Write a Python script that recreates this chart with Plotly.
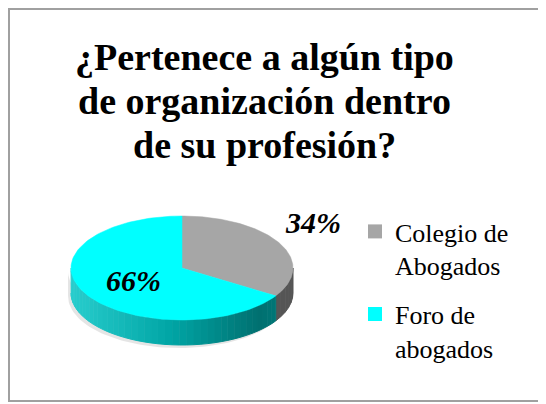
import numpy as np
import plotly.graph_objects as go

# data
categories = ["Colegio de Abogados", "Foro de abogados"]
legend_labels = ["Colegio de<br>Abogados", "Foro de<br>abogados"]
values = [34, 66]
top_colors = ["#A6A6A6", "#00FFFF"]
side_colors = [(85, 85, 85), (0, 150, 150)]
title_lines = ["¿Pertenece a algún tipo", "de organización dentro", "de su profesión?"]

# the page body has an 8px margin, so axes are set so that 1 unit = 1 screen pixel
off = 8
W, H = 546, 404

# pie geometry, in screen pixels
cx, cy = 182, 268
rx, ry = 111, 52
depth = 25
serif = "Liberation Serif"


def pt(theta, dy=0.0):
    return cx + rx * np.cos(theta), cy - ry * np.sin(theta) + dy


def cyan_side(t):
    # light teal on the left, dark teal on the right
    stops = [(0.0, (40, 205, 205)), (0.45, (0, 165, 165)), (0.85, (0, 112, 112)), (1.0, (0, 125, 125))]
    for (t0, c0), (t1, c1) in zip(stops[:-1], stops[1:]):
        if t <= t1:
            f = (t - t0) / (t1 - t0)
            c = [round(a + (b - a) * f) for a, b in zip(c0, c1)]
            return "rgb(%d,%d,%d)" % tuple(c)
    return "rgb(%d,%d,%d)" % stops[-1][1]


fig = go.Figure()

# slice angles, clockwise from 12 o'clock
fracs = np.array(values) / sum(values)
starts = np.pi / 2 - 2 * np.pi * np.concatenate([[0], np.cumsum(fracs)[:-1]])
ends = starts - 2 * np.pi * fracs

# soft shadow under the pie
th = np.linspace(np.pi, 2 * np.pi, 80)
sx, sy = pt(th, depth + 3)
fig.add_trace(go.Scatter(x=np.concatenate([sx - 3, (sx - 3)[::-1]]),
                         y=np.concatenate([sy, sy[::-1] - depth]),
                         fill="toself", mode="lines", line=dict(width=0),
                         fillcolor="rgba(0,0,0,0.10)", hoverinfo="skip", showlegend=False))

# visible side wall (front half only)
for i in range(len(values)):
    lo, hi = sorted([starts[i], ends[i]])
    for k in range(-2, 2):
        s0 = max(lo, -np.pi + 2 * np.pi * k)
        s1 = min(hi, 2 * np.pi * k)
        if s1 <= s0:
            continue
        n = 40 if i == 1 else 6
        edges = np.linspace(s0, s1, n + 1)
        for j in range(n):
            seg = np.linspace(edges[j], edges[j + 1], 6)
            tx, ty = pt(seg)
            bx, by = pt(seg[::-1], depth)
            if i == 1:
                col = cyan_side((np.cos(seg.mean()) + 1) / 2)
            else:
                col = "rgb(%d,%d,%d)" % side_colors[0]
            fig.add_trace(go.Scatter(x=np.concatenate([tx, bx]), y=np.concatenate([ty, by]),
                                     fill="toself", mode="lines", line=dict(width=1, color=col),
                                     fillcolor=col, hoverinfo="skip", showlegend=False))

# top faces
for i in range(len(values)):
    arc = np.linspace(starts[i], ends[i], 120)
    ax_, ay_ = pt(arc)
    fig.add_trace(go.Scatter(x=np.concatenate([[cx], ax_, [cx]]), y=np.concatenate([[cy], ay_, [cy]]),
                             fill="toself", mode="lines", line=dict(width=0.5, color=top_colors[i]),
                             fillcolor=top_colors[i], name=categories[i],
                             hoverinfo="skip", showlegend=False))

# legend entries
for i in range(len(values)):
    fig.add_trace(go.Scatter(x=[None], y=[None], mode="markers", name=legend_labels[i],
                             legendgroup=str(i),
                             marker=dict(symbol="square", size=14, color=top_colors[i])))

# percentage labels
mids = (starts + ends) / 2
for i, v in enumerate(values):
    if i == 0:
        lx, ly = cx + (rx + 38) * np.cos(mids[i]), cy - (ry + 42) * np.sin(mids[i])
    else:
        lx, ly = pt(mids[i])
        lx, ly = cx + 0.5 * (lx - cx), cy + 0.5 * (ly - cy)
    fig.add_annotation(x=lx, y=ly, text="<b><i>%d%%</i></b>" % v, showarrow=False,
                       font=dict(family=serif, size=30, color="black"))

# title, one annotation per line
for k, line in enumerate(title_lines):
    fig.add_annotation(x=264, y=57 + 44 * k, text="<b>%s</b>" % line, showarrow=False,
                       font=dict(family=serif, size=38, color="black"))

# chart frame
fig.add_shape(type="rect", x0=off + 1, x1=W + 10, y0=off + 1, y1=401,
              line=dict(color="#A0A0A0", width=2))

fig.update_layout(
    width=W, height=H,
    margin=dict(l=0, r=0, t=0, b=0, autoexpand=False),
    paper_bgcolor="white", plot_bgcolor="white",
    xaxis=dict(range=[off, W + off], visible=False, fixedrange=True),
    yaxis=dict(range=[H + off, off], visible=False, fixedrange=True),
    showlegend=True,
    legend=dict(xref="container", yref="container", x=(355 - off) / W, y=1 - 200 / H,
                xanchor="left", yanchor="top", valign="top", tracegroupgap=12,
                font=dict(family=serif, size=26, color="black"), bgcolor="rgba(0,0,0,0)"),
)

fig.write_html("out.html")
